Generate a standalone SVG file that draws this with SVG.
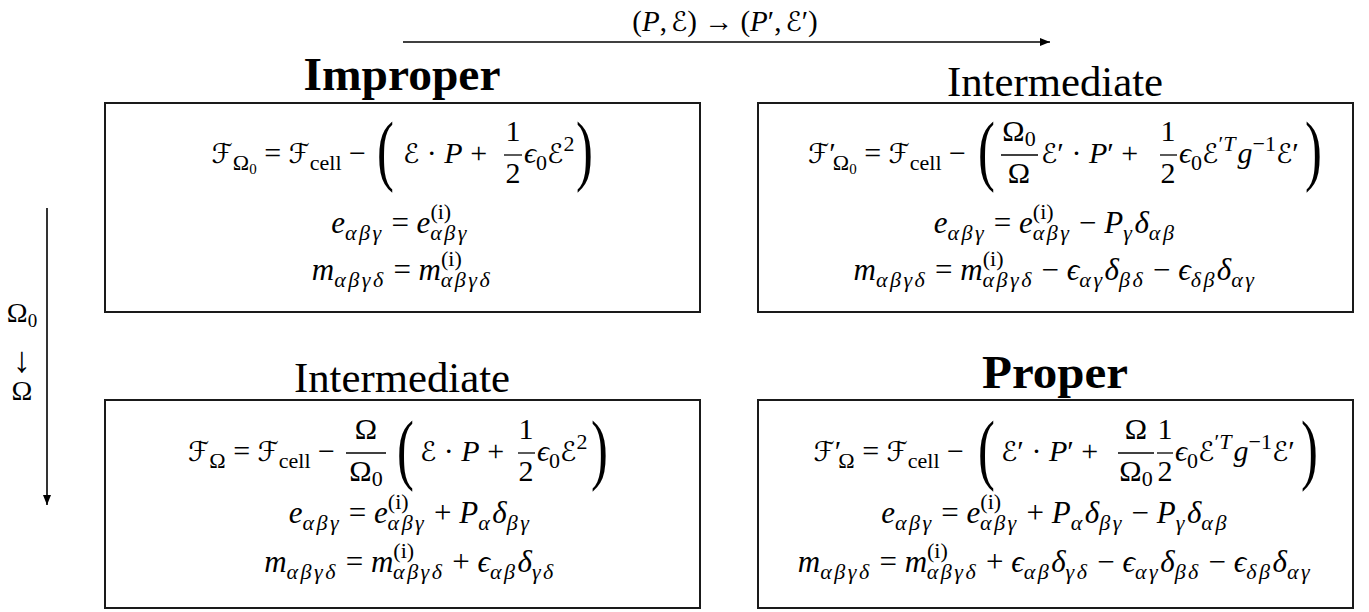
<svg xmlns="http://www.w3.org/2000/svg" width="1369" height="612" viewBox="0 0 1369 612">
<style>
.t{font-family:"Liberation Serif","DejaVu Serif",serif;fill:#000}
.eq{font-size:30px}
.eq2{font-size:31px}
.i{font-style:italic}
.sb{font-size:22px}
.g{letter-spacing:2.5px}
.ss{font-size:15px}
.cal{font-family:"DejaVu Serif","DejaVu Sans","Noto Sans",serif;font-style:normal;font-size:27px}
.par{font-size:78px}
.ttl{font-size:42px}
.bt{font-size:46px;font-weight:bold}
.box{fill:none;stroke:#1a1a1a;stroke-width:2}
.fb{stroke:#000;stroke-width:1.3}
.arr{stroke:#000;stroke-width:1.6;fill:none;marker-end:url(#ah)}
</style>
<defs>
<marker id="ah" markerWidth="10" markerHeight="8" refX="10" refY="4" orient="auto" markerUnits="userSpaceOnUse"><path d="M0,0 L10,4 L0,8 Z" fill="#000"/></marker>
</defs>
<rect width="1369" height="612" fill="#fff"/>

<g id="connectors">
<line class="arr" x1="403" y1="42" x2="1050" y2="42"/>
<text class="t" x="725" y="31" font-size="29" text-anchor="middle">(<tspan class="i">P</tspan>,<tspan class="cal" dx="4">ℰ</tspan>) → (<tspan class="i">P</tspan>′,<tspan class="cal" dx="4">ℰ</tspan>′)</text>
<line class="arr" x1="47" y1="208" x2="47" y2="505"/>
<text class="t" x="22" y="322" font-size="28" text-anchor="middle">Ω<tspan font-size="19" dy="5">0</tspan></text>
<text class="t" x="22" y="372" font-size="36" text-anchor="middle">↓</text>
<text class="t" x="22" y="400" font-size="28" text-anchor="middle">Ω</text>
</g>

<g id="improper">
<text class="t bt" x="402" y="90" text-anchor="middle" textLength="197" lengthAdjust="spacingAndGlyphs">Improper</text>
<rect class="box" x="105" y="103" width="595" height="209"/>
<text class="t eq" x="366" y="163" text-anchor="end"><tspan class="cal">ℱ</tspan><tspan class="sb" dy="7">Ω</tspan><tspan class="ss" dy="4">0</tspan><tspan dy="-11"> = </tspan><tspan class="cal">ℱ</tspan><tspan class="sb" dy="7">cell</tspan><tspan dy="-7"> −</tspan></text>
<text class="t par" transform="translate(377,176) scale(0.65,1)">(</text>
<text class="t eq" x="403" y="163"><tspan class="cal">ℰ</tspan> · <tspan class="i">P</tspan> +</text>
<text class="t eq" x="513" y="141" text-anchor="middle">1</text>
<text class="t eq" x="513" y="183" text-anchor="middle">2</text>
<line class="fb" x1="504" y1="155" x2="522" y2="155"/>
<text class="t eq" x="524" y="163"><tspan class="i">ϵ</tspan><tspan class="sb" dy="7">0</tspan><tspan class="cal" dy="-7">ℰ</tspan><tspan class="sb" dy="-12">2</tspan></text>
<text class="t par" transform="translate(576,176) scale(0.65,1)">)</text>
<text class="t eq2" x="400" y="233" text-anchor="middle"><tspan class="i">e</tspan><tspan class="sb i g" dy="7">αβγ</tspan><tspan dy="-7"> = </tspan><tspan class="i">e</tspan><tspan class="sb" dy="-14">(i)</tspan><tspan class="sb i g" dx="-21" dy="21">αβγ</tspan></text>
<text class="t eq2" x="402" y="280" text-anchor="middle"><tspan class="i">m</tspan><tspan class="sb i g" dy="7">αβγδ</tspan><tspan dy="-7"> = </tspan><tspan class="i">m</tspan><tspan class="sb" dy="-14">(i)</tspan><tspan class="sb i g" dx="-21" dy="21">αβγδ</tspan></text>
</g>

<g id="intermediate-top">
<text class="t ttl" x="1055" y="96" text-anchor="middle" textLength="216" lengthAdjust="spacingAndGlyphs">Intermediate</text>
<rect class="box" x="758" y="103" width="595" height="209"/>
<text class="t eq" x="966" y="163" text-anchor="end"><tspan class="cal">ℱ</tspan>′<tspan class="sb" dx="-3" dy="7">Ω</tspan><tspan class="ss" dy="4">0</tspan><tspan dy="-11"> = </tspan><tspan class="cal">ℱ</tspan><tspan class="sb" dy="7">cell</tspan><tspan dy="-7"> −</tspan></text>
<text class="t par" transform="translate(978,176) scale(0.65,1)">(</text>
<text class="t eq" x="1019" y="141" text-anchor="middle">Ω<tspan class="sb" dy="5">0</tspan></text>
<text class="t eq" x="1019" y="183" text-anchor="middle">Ω</text>
<line class="fb" x1="1001" y1="155" x2="1038" y2="155"/>
<text class="t eq" x="1041" y="163"><tspan class="cal">ℰ</tspan>′ · <tspan class="i">P</tspan>′ +</text>
<text class="t eq" x="1168" y="141" text-anchor="middle">1</text>
<text class="t eq" x="1168" y="183" text-anchor="middle">2</text>
<line class="fb" x1="1160" y1="155" x2="1177" y2="155"/>
<text class="t eq" x="1179" y="163"><tspan class="i">ϵ</tspan><tspan class="sb" dy="7">0</tspan><tspan class="cal" dy="-7">ℰ</tspan><tspan class="sb" dy="-12">′<tspan class="i">T</tspan></tspan><tspan class="i" dx="2" dy="12">g</tspan><tspan class="sb" dy="-12">−1</tspan><tspan class="cal" dy="12">ℰ</tspan>′</text>
<text class="t par" transform="translate(1305,176) scale(0.65,1)">)</text>
<text class="t eq2" x="1055" y="233" text-anchor="middle"><tspan class="i">e</tspan><tspan class="sb i g" dy="7">αβγ</tspan><tspan dy="-7"> = </tspan><tspan class="i">e</tspan><tspan class="sb" dy="-14">(i)</tspan><tspan class="sb i g" dx="-21" dy="21">αβγ</tspan><tspan dy="-7"> − </tspan><tspan class="i">P</tspan><tspan class="sb i g" dy="7">γ</tspan><tspan class="i" dy="-7">δ</tspan><tspan class="sb i g" dy="7">αβ</tspan></text>
<text class="t eq2" x="1055" y="280" text-anchor="middle"><tspan class="i">m</tspan><tspan class="sb i g" dy="7">αβγδ</tspan><tspan dy="-7"> = </tspan><tspan class="i">m</tspan><tspan class="sb" dy="-14">(i)</tspan><tspan class="sb i g" dx="-21" dy="21">αβγδ</tspan><tspan dy="-7"> − </tspan><tspan class="i">ϵ</tspan><tspan class="sb i g" dy="7">αγ</tspan><tspan class="i" dy="-7">δ</tspan><tspan class="sb i g" dy="7">βδ</tspan><tspan dy="-7"> − </tspan><tspan class="i">ϵ</tspan><tspan class="sb i g" dy="7">δβ</tspan><tspan class="i" dy="-7">δ</tspan><tspan class="sb i g" dy="7">αγ</tspan></text>
</g>

<g id="intermediate-bottom">
<text class="t ttl" x="402" y="392" text-anchor="middle" textLength="216" lengthAdjust="spacingAndGlyphs">Intermediate</text>
<rect class="box" x="105" y="400" width="595" height="208"/>
<text class="t eq" x="335" y="461" text-anchor="end"><tspan class="cal">ℱ</tspan><tspan class="sb" dy="7">Ω</tspan><tspan dy="-7"> = </tspan><tspan class="cal">ℱ</tspan><tspan class="sb" dy="7">cell</tspan><tspan dy="-7"> −</tspan></text>
<text class="t eq" x="366" y="439" text-anchor="middle">Ω</text>
<text class="t eq" x="366" y="481" text-anchor="middle">Ω<tspan class="sb" dy="5">0</tspan></text>
<line class="fb" x1="346" y1="453" x2="386" y2="453"/>
<text class="t par" transform="translate(397,475) scale(0.65,1)">(</text>
<text class="t eq" x="420" y="461"><tspan class="cal">ℰ</tspan> · <tspan class="i">P</tspan> +</text>
<text class="t eq" x="526" y="439" text-anchor="middle">1</text>
<text class="t eq" x="526" y="481" text-anchor="middle">2</text>
<line class="fb" x1="518" y1="453" x2="535" y2="453"/>
<text class="t eq" x="537" y="461"><tspan class="i">ϵ</tspan><tspan class="sb" dy="7">0</tspan><tspan class="cal" dy="-7">ℰ</tspan><tspan class="sb" dy="-12">2</tspan></text>
<text class="t par" transform="translate(591,475) scale(0.65,1)">)</text>
<text class="t eq2" x="410" y="523" text-anchor="middle"><tspan class="i">e</tspan><tspan class="sb i g" dy="7">αβγ</tspan><tspan dy="-7"> = </tspan><tspan class="i">e</tspan><tspan class="sb" dy="-14">(i)</tspan><tspan class="sb i g" dx="-21" dy="21">αβγ</tspan><tspan dy="-7"> + </tspan><tspan class="i">P</tspan><tspan class="sb i g" dy="7">α</tspan><tspan class="i" dy="-7">δ</tspan><tspan class="sb i g" dy="7">βγ</tspan></text>
<text class="t eq2" x="410" y="572" text-anchor="middle"><tspan class="i">m</tspan><tspan class="sb i g" dy="7">αβγδ</tspan><tspan dy="-7"> = </tspan><tspan class="i">m</tspan><tspan class="sb" dy="-14">(i)</tspan><tspan class="sb i g" dx="-21" dy="21">αβγδ</tspan><tspan dy="-7"> + </tspan><tspan class="i">ϵ</tspan><tspan class="sb i g" dy="7">αβ</tspan><tspan class="i" dy="-7">δ</tspan><tspan class="sb i g" dy="7">γδ</tspan></text>
</g>

<g id="proper">
<text class="t bt" x="1055" y="388" text-anchor="middle" textLength="146" lengthAdjust="spacingAndGlyphs">Proper</text>
<rect class="box" x="758" y="400" width="595" height="208"/>
<text class="t eq" x="964" y="461" text-anchor="end"><tspan class="cal">ℱ</tspan>′<tspan class="sb" dx="-3" dy="7">Ω</tspan><tspan dy="-7"> = </tspan><tspan class="cal">ℱ</tspan><tspan class="sb" dy="7">cell</tspan><tspan dy="-7"> −</tspan></text>
<text class="t par" transform="translate(978,475) scale(0.65,1)">(</text>
<text class="t eq" x="1001" y="461"><tspan class="cal">ℰ</tspan>′ · <tspan class="i">P</tspan>′ +</text>
<text class="t eq" x="1136" y="439" text-anchor="middle">Ω</text>
<text class="t eq" x="1136" y="481" text-anchor="middle">Ω<tspan class="sb" dy="5">0</tspan></text>
<line class="fb" x1="1118" y1="453" x2="1154" y2="453"/>
<text class="t eq" x="1165" y="439" text-anchor="middle">1</text>
<text class="t eq" x="1165" y="481" text-anchor="middle">2</text>
<line class="fb" x1="1157" y1="453" x2="1173" y2="453"/>
<text class="t eq" x="1175" y="461"><tspan class="i">ϵ</tspan><tspan class="sb" dy="7">0</tspan><tspan class="cal" dy="-7">ℰ</tspan><tspan class="sb" dy="-12">′<tspan class="i">T</tspan></tspan><tspan class="i" dx="2" dy="12">g</tspan><tspan class="sb" dy="-12">−1</tspan><tspan class="cal" dy="12">ℰ</tspan>′</text>
<text class="t par" transform="translate(1301,475) scale(0.65,1)">)</text>
<text class="t eq2" x="1055" y="523" text-anchor="middle"><tspan class="i">e</tspan><tspan class="sb i g" dy="7">αβγ</tspan><tspan dy="-7"> = </tspan><tspan class="i">e</tspan><tspan class="sb" dy="-14">(i)</tspan><tspan class="sb i g" dx="-21" dy="21">αβγ</tspan><tspan dy="-7"> + </tspan><tspan class="i">P</tspan><tspan class="sb i g" dy="7">α</tspan><tspan class="i" dy="-7">δ</tspan><tspan class="sb i g" dy="7">βγ</tspan><tspan dy="-7"> − </tspan><tspan class="i">P</tspan><tspan class="sb i g" dy="7">γ</tspan><tspan class="i" dy="-7">δ</tspan><tspan class="sb i g" dy="7">αβ</tspan></text>
<text class="t eq2" x="1055" y="572" text-anchor="middle"><tspan class="i">m</tspan><tspan class="sb i g" dy="7">αβγδ</tspan><tspan dy="-7"> = </tspan><tspan class="i">m</tspan><tspan class="sb" dy="-14">(i)</tspan><tspan class="sb i g" dx="-21" dy="21">αβγδ</tspan><tspan dy="-7"> + </tspan><tspan class="i">ϵ</tspan><tspan class="sb i g" dy="7">αβ</tspan><tspan class="i" dy="-7">δ</tspan><tspan class="sb i g" dy="7">γδ</tspan><tspan dy="-7"> − </tspan><tspan class="i">ϵ</tspan><tspan class="sb i g" dy="7">αγ</tspan><tspan class="i" dy="-7">δ</tspan><tspan class="sb i g" dy="7">βδ</tspan><tspan dy="-7"> − </tspan><tspan class="i">ϵ</tspan><tspan class="sb i g" dy="7">δβ</tspan><tspan class="i" dy="-7">δ</tspan><tspan class="sb i g" dy="7">αγ</tspan></text>
</g>
</svg>
